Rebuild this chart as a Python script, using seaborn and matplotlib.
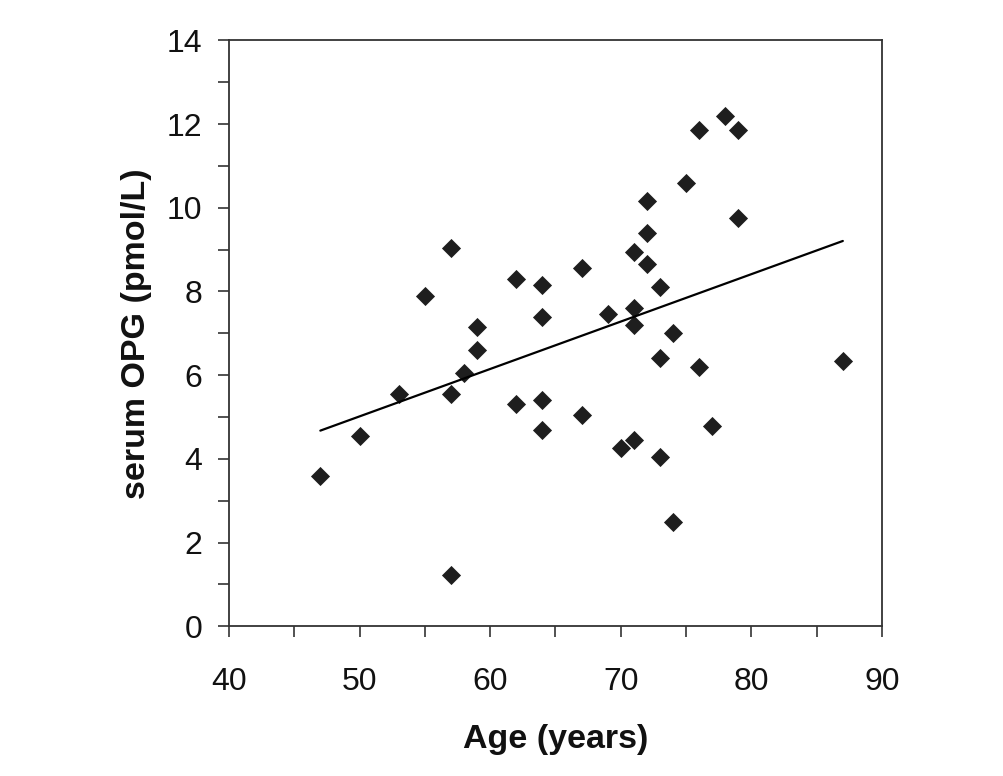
import matplotlib
matplotlib.use("Agg")
import matplotlib.pyplot as plt
from matplotlib.ticker import MultipleLocator
import seaborn as sns
import pandas as pd
import numpy as np

age = [47, 50, 53, 55, 57, 57, 57, 58, 59, 59, 62, 62, 64, 64, 64, 64, 67, 67, 69, 70,
       71, 71, 71, 71, 72, 72, 72, 73, 73, 73, 74, 74, 75, 76, 76, 77, 78, 79, 79, 87]
opg = [3.6, 4.55, 5.55, 7.9, 9.05, 5.55, 1.22, 6.04, 7.15, 6.59, 8.3, 5.3, 8.15, 7.4, 5.4, 4.7,
       8.55, 5.05, 7.45, 4.25, 8.95, 7.6, 7.2, 4.45, 10.15, 9.4, 8.65, 8.1, 6.4, 4.05,
       7.0, 2.5, 10.6, 11.85, 6.2, 4.78, 12.2, 11.85, 9.75, 6.33]

df = pd.DataFrame({"Age (years)": age, "serum OPG (pmol/L)": opg})

sns.set_style("ticks")
plt.rcParams["font.family"] = ["Liberation Sans", "DejaVu Sans"]

fig = plt.figure(figsize=(10.04, 7.76), dpi=100)
ax = fig.add_axes([0.228, 0.193, 0.6505, 0.755])

sns.regplot(data=df, x="Age (years)", y="serum OPG (pmol/L)", ax=ax, ci=None,
            marker="D", color="#1e1e1e",
            scatter_kws={"s": 95, "linewidths": 0, "alpha": 1},
            line_kws={"color": "black", "linewidth": 1.6})

ax.set_xlim(40, 90)
ax.set_ylim(0, 14)
ax.xaxis.set_major_locator(MultipleLocator(10))
ax.xaxis.set_minor_locator(MultipleLocator(5))
ax.yaxis.set_major_locator(MultipleLocator(2))
ax.yaxis.set_minor_locator(MultipleLocator(1))

for s in ax.spines.values():
    s.set_color("#333333")
    s.set_linewidth(1.3)
    s.set_visible(True)

ax.tick_params(axis="both", which="both", direction="out", length=8, width=1.2,
               color="#333333", labelsize=23, labelcolor="#111111")
ax.tick_params(axis="x", which="both", pad=21)
ax.tick_params(axis="y", which="both", pad=11)

ax.set_xlabel("Age (years)", fontsize=24.5, fontweight="bold", labelpad=20, color="#111111")
ax.set_ylabel("serum OPG (pmol/L)", fontsize=24.5, fontweight="bold", labelpad=11, color="#111111")

fig.savefig("out.png", dpi=100)
